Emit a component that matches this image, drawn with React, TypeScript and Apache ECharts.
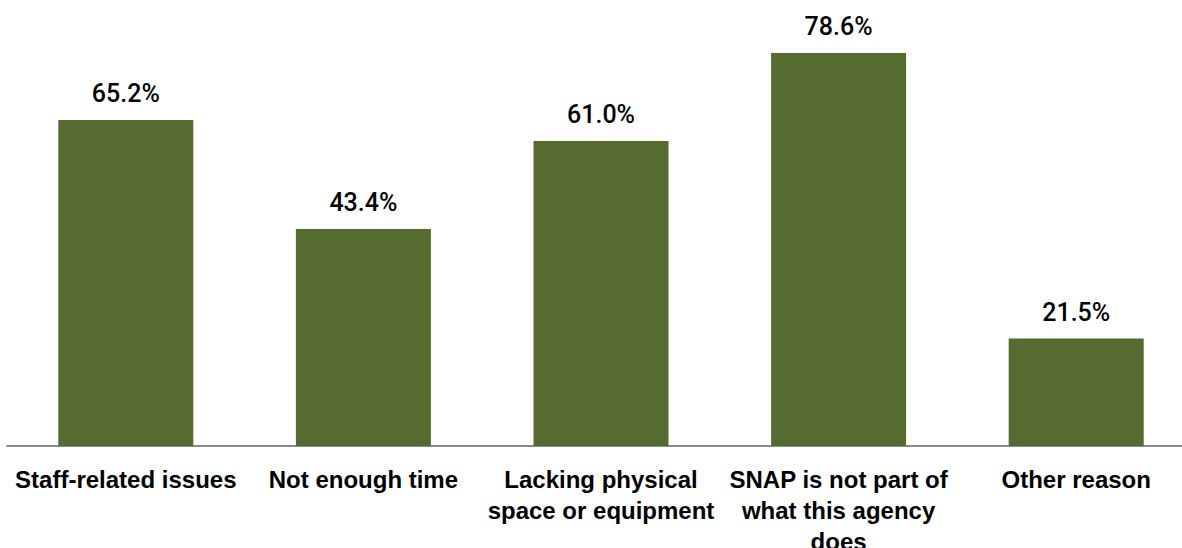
import React, { useEffect, useRef } from "react";
import * as echarts from "echarts";

const categories = [
  "Staff-related issues",
  "Not enough time",
  "Lacking physical\nspace or equipment",
  "SNAP is not part of\nwhat this agency\ndoes",
  "Other reason",
];
const values = [65.2, 43.4, 61.0, 78.6, 21.5];

const FONT = "'Liberation Sans', Arial, sans-serif";

export default function App() {
  const ref = useRef<HTMLDivElement>(null);

  useEffect(() => {
    if (!ref.current) return;
    const chart = echarts.init(ref.current, undefined, { renderer: "svg" });
    chart.setOption({
      animation: false,
      grid: {
        left: 7,
        right: 0,
        top: 46,
        bottom: 102,
        containLabel: false,
        outerBoundsMode: "none",
      },
      xAxis: {
        type: "category",
        data: categories,
        axisLine: { show: true, lineStyle: { color: "#898989", width: 2 } },
        axisTick: { show: false },
        axisLabel: {
          interval: 0,
          color: "#000",
          fontFamily: FONT,
          fontWeight: "bold",
          fontSize: 24,
          lineHeight: 31,
          margin: 18,
        },
      },
      yAxis: {
        type: "value",
        min: 0,
        max: 80,
        show: false,
        splitLine: { show: false },
      },
      series: [
        {
          type: "bar",
          data: values,
          barWidth: 135,
          itemStyle: { color: "#556B2F" },
          label: {
            show: true,
            position: "top",
            distance: 14,
            color: "#000",
            fontFamily: "Roboto, 'Liberation Sans', sans-serif",
            fontWeight: 500,
            fontSize: 25,
            formatter: (p: any) => `${p.value.toFixed(1)}%`,
          },
        },
      ],
    });
    return () => chart.dispose();
  }, []);

  return (
    <div
      ref={ref}
      style={{ position: "fixed", left: 0, top: 0, width: 1195, height: 548, background: "#fff" }}
    />
  );
}
